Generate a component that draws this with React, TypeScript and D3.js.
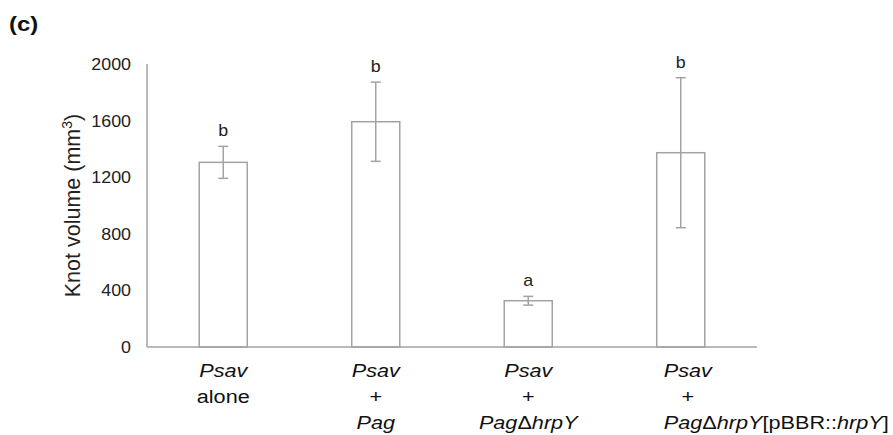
import * as d3 from 'd3';
import React from 'react';

const groups = ['alone', 'pag', 'mutant', 'complemented'];
const means = [1305, 1592, 327, 1373];
const errors = [113, 280, 31, 530];
const letters = ['b', 'b', 'a', 'b'];
const yTicks = [0, 400, 800, 1200, 1600, 2000];

const width = 893;
const height = 435;
const margin = { left: 147, right: 136, top: 64, bottom: 88 };

const gray = '#a3a3a3';
const font = '"Liberation Sans", Arial, sans-serif';
// the original figure is a little stretched sideways
const stretch = 1.14;

const x = d3
  .scaleBand<string>()
  .domain(groups)
  .range([margin.left, width - margin.right])
  .paddingInner(0.685)
  .paddingOuter(0.3425);

const y = d3
  .scaleLinear()
  .domain([0, 2000])
  .range([height - margin.bottom, margin.top]);

// x labels, line by line; each line is a list of [text, italic]
const labelLines: [string, boolean][][][] = [
  [[['Psav', true]], [['alone', false]]],
  [[['Psav', true]], [['+', false]], [['Pag', true]]],
  [[['Psav', true]], [['+', false]], [['Pag', true], ['\u0394', false], ['hrpY', true]]],
  [
    [['Psav', true]],
    [['+', false]],
    [['Pag', true], ['\u0394', false], ['hrpY', true], ['[pBBR::', false], ['hrpY', true], [']', false]],
  ],
];

export default function App() {
  const base = y(0);
  return (
    <svg width={width} height={height} style={{ position: 'absolute', left: 0, top: 0, background: '#fff' }} fontFamily={font}>
      <text transform={`translate(9,31) scale(${stretch},1)`} fontSize={21} fontWeight="bold" fill="#111">
        (c)
      </text>

      {/* y axis */}
      <line x1={margin.left} x2={margin.left} y1={y(2000)} y2={base} stroke={gray} strokeWidth={1.5} />
      {yTicks.map(t => (
        <text
          key={t}
          transform={`translate(131,${y(t)}) scale(1.05,1)`}
          dy="0.35em"
          textAnchor="end"
          fontSize={17}
          fill="#222"
        >
          {t}
        </text>
      ))}
      <text
        transform={`translate(80,${(y(0) + y(2000)) / 2}) rotate(-90)`}
        textAnchor="middle"
        fontSize={21.5}
        fill="#222"
      >
        Knot volume (mm<tspan dy="-8" fontSize={14}>3</tspan>
        <tspan dy="8">)</tspan>
      </text>

      {/* bars */}
      {groups.map((g, i) => {
        const bx = x(g)!;
        const cx = bx + x.bandwidth() / 2;
        const top = y(means[i] + errors[i]);
        const bot = y(means[i] - errors[i]);
        return (
          <g key={g}>
            <rect
              x={bx}
              y={y(means[i])}
              width={x.bandwidth()}
              height={base - y(means[i])}
              fill="#fff"
              stroke={gray}
              strokeWidth={1.5}
            />
            <line x1={cx} x2={cx} y1={top} y2={bot} stroke={gray} strokeWidth={1.5} />
            <line x1={cx - 5} x2={cx + 5} y1={top} y2={top} stroke={gray} strokeWidth={1.5} />
            <line x1={cx - 5} x2={cx + 5} y1={bot} y2={bot} stroke={gray} strokeWidth={1.5} />
            <text
              transform={`translate(${cx},${top - 10}) scale(1.05,1)`}
              textAnchor="middle"
              fontSize={17}
              fill="#222"
            >
              {letters[i]}
            </text>
          </g>
        );
      })}

      {/* x axis */}
      <line x1={margin.left} x2={width - margin.right} y1={base} y2={base} stroke={gray} strokeWidth={1.5} />

      {groups.map((g, i) => {
        const cx = x(g)! + x.bandwidth() / 2;
        const last = i === groups.length - 1;
        const ax = last ? cx + 7 : cx;
        return (
          <g key={g}>
            {labelLines[i].map((line, j) => {
              const startAligned = last && j === 2;
              const tx = startAligned ? ax - 24 : ax;
              return (
                <text
                  key={j}
                  transform={`translate(${tx},${base + 30 + j * 26}) scale(${stretch},1)`}
                  textAnchor={startAligned ? 'start' : 'middle'}
                  fontSize={19}
                  fill="#111"
                >
                  {line.map(([t, it], k) => (
                    <tspan key={k} fontStyle={it ? 'italic' : 'normal'}>
                      {t}
                    </tspan>
                  ))}
                </text>
              );
            })}
          </g>
        );
      })}
    </svg>
  );
}
